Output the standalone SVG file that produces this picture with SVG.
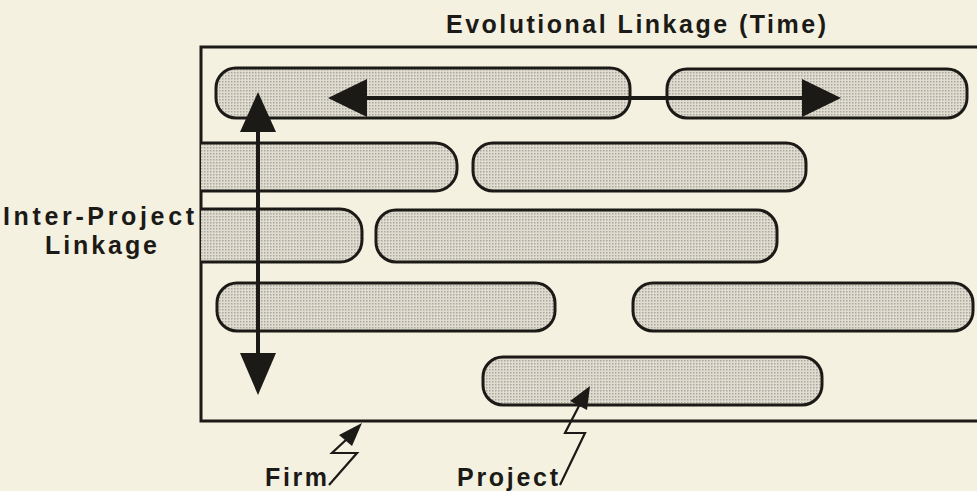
<svg xmlns="http://www.w3.org/2000/svg" width="977" height="491" viewBox="0 0 977 491">
  <defs>
    <pattern id="stipple" width="3" height="3" patternUnits="userSpaceOnUse">
      <rect width="3" height="3" fill="#e0ddd0"/>
      <rect x="0" y="0" width="1.5" height="1.5" fill="#a9a79d"/>
    </pattern>
  </defs>
  <style>
    .bar { fill: url(#stipple); stroke: #1c1a16; stroke-width: 3; }
    .frame { fill: none; stroke: #1c1a16; stroke-width: 3; }
    .label { font-family: "Liberation Sans", Arial, sans-serif; font-weight: bold; font-size: 25px; fill: #1c1a16; }
    .shaft { stroke: #1c1a16; stroke-width: 4; fill: none; }
    .bolt { stroke: #1c1a16; stroke-width: 2.2; fill: none; stroke-linejoin: miter; }
    .tip { fill: #1c1a16; }
  </style>

  <rect width="977" height="491" fill="#f4f1e1"/>

  <!-- firm boundary (open to the right) -->
  <g id="firm">
    <path class="frame" d="M977,47 H201 V421 H977"/>
  </g>

  <!-- projects -->
  <g id="project-1a"><rect class="bar" x="216" y="68" width="414" height="50" rx="20"/></g>
  <g id="project-1b"><rect class="bar" x="667" y="69" width="300" height="49" rx="20"/></g>
  <g id="project-2a"><path class="bar" d="M201,143 H435 A22,22 0 0 1 457,165 V169 A22,22 0 0 1 435,191 H201"/></g>
  <g id="project-2b"><rect class="bar" x="473" y="143" width="333" height="48" rx="20"/></g>
  <g id="project-3a"><path class="bar" d="M201,209 H340 A22,22 0 0 1 362,231 V240 A22,22 0 0 1 340,262 H201"/></g>
  <g id="project-3b"><rect class="bar" x="376" y="210" width="401" height="52" rx="20"/></g>
  <g id="project-4a"><rect class="bar" x="217" y="283" width="338" height="48" rx="20"/></g>
  <g id="project-4b"><rect class="bar" x="633" y="283" width="340" height="48" rx="20"/></g>
  <g id="project-5"><rect class="bar" x="483" y="357" width="339" height="48" rx="20"/></g>

  <!-- linkage arrows and callouts -->
  <g id="connectors">
    <!-- inter-project (vertical) -->
    <line class="shaft" x1="258" y1="120" x2="258" y2="365"/>
    <polygon class="tip" points="258,92 240,132 276,132"/>
    <polygon class="tip" points="258,395 240,353 276,353"/>
    <!-- evolutional (horizontal) -->
    <line class="shaft" x1="355" y1="98" x2="815" y2="98" stroke-width="3"/>
    <polygon class="tip" points="328,98 367,79 367,117"/>
    <polygon class="tip" points="841,98 802,79 802,117"/>
    <!-- firm callout -->
    <polyline class="bolt" points="329,485 357,453 332,453 348,438"/>
    <polygon class="tip" points="362,423 339,435 352,446"/>
    <!-- project callout -->
    <polyline class="bolt" points="560,485 585,433 565,433 580,404"/>
    <polygon class="tip" points="590,386 570,401 587,410"/>
  </g>

  <!-- labels -->
  <g id="labels">
    <text class="label" x="446" y="33" textLength="380" lengthAdjust="spacing">Evolutional Linkage (Time)</text>
    <text class="label" x="3" y="225" textLength="191" lengthAdjust="spacing">Inter-Project</text>
    <text class="label" x="45" y="254" textLength="112" lengthAdjust="spacing">Linkage</text>
    <text class="label" x="265" y="486" textLength="62" lengthAdjust="spacing">Firm</text>
    <text class="label" x="457" y="486" textLength="101" lengthAdjust="spacing">Project</text>
  </g>
</svg>
